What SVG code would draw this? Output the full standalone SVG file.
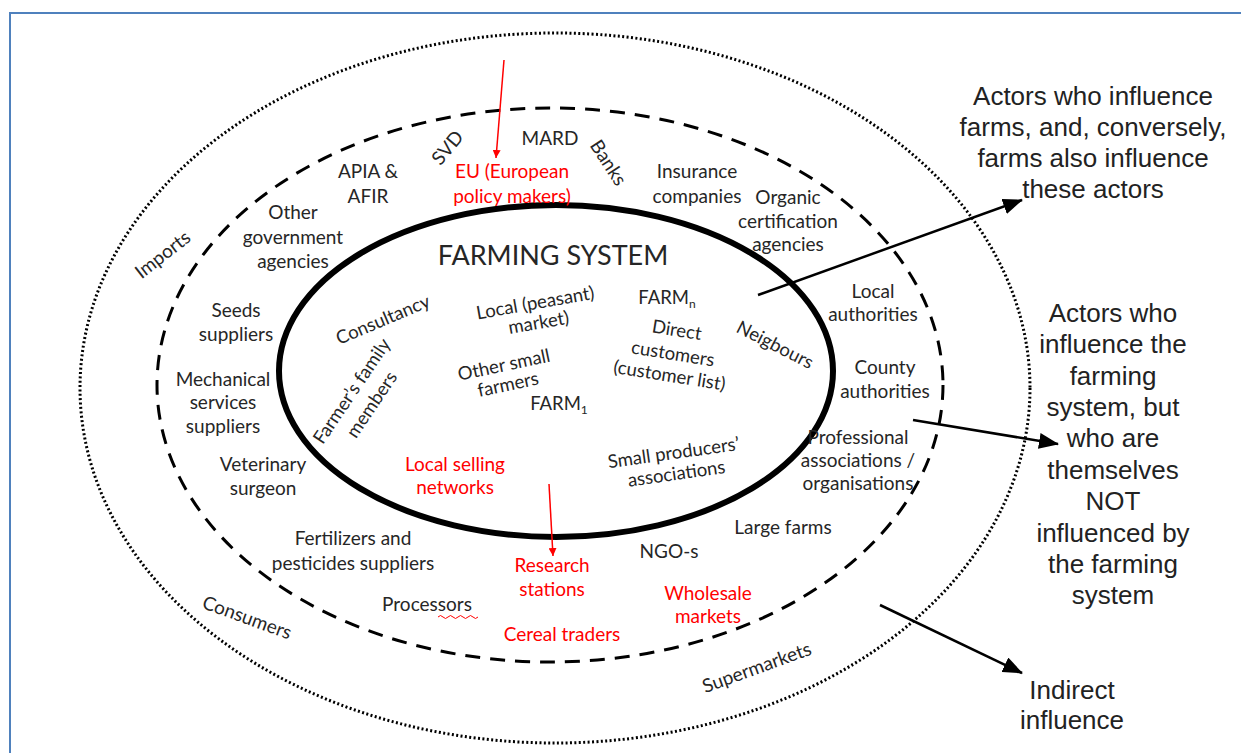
<svg xmlns="http://www.w3.org/2000/svg" width="1241" height="753" viewBox="0 0 1241 753">
<defs>
<style>
.t{font-family:Lato,"Open Sans","Liberation Sans",sans-serif;font-size:19px;fill:#262626;text-anchor:middle}
.i{font-size:18.5px}
.r{fill:#ff0000}
.a{font-family:"Liberation Sans",Arial,sans-serif;font-size:26px;fill:#222;text-anchor:middle}
.big{font-size:27px}
.con{stroke:#000;stroke-width:2.5;fill:none}
.rcon{stroke:#ff0000;stroke-width:1.5;fill:none}
</style>
<marker id="ah" markerUnits="userSpaceOnUse" viewBox="0 0 20 16" markerWidth="20" markerHeight="16" refX="19" refY="8" orient="auto"><path d="M0,0 L20,8 L0,16 z" fill="#000"/></marker>
<marker id="rh" markerUnits="userSpaceOnUse" viewBox="0 0 8 8" markerWidth="8" markerHeight="8" refX="8" refY="4" orient="auto"><path d="M0,0 L8,4 L0,8 z" fill="#ff0000"/></marker>
</defs>
<rect width="1241" height="753" fill="#fff"/>
<path d="M10,753 L10,13 L1241,13" fill="none" stroke="#4f81bd" stroke-width="2"/>

<g id="outer">
<ellipse cx="555" cy="388" rx="475" ry="355" fill="none" stroke="#000" stroke-width="3" stroke-dasharray="2 2.4"/>
</g>
<g id="middle">
<ellipse cx="550" cy="385" rx="393" ry="277" fill="none" stroke="#000" stroke-width="3" stroke-dasharray="15 10"/>
</g>
<g id="farming-system">
<ellipse cx="556" cy="371" rx="277" ry="166" fill="none" stroke="#000" stroke-width="6"/>
<text class="t big" x="553" y="265">FARMING SYSTEM</text>
</g>

<g id="connectors">
<line class="con" x1="758" y1="295" x2="1022" y2="200" marker-end="url(#ah)"/>
<line class="con" x1="913" y1="420" x2="1058" y2="444" marker-end="url(#ah)"/>
<line class="con" x1="880" y1="605" x2="1022" y2="673" marker-end="url(#ah)"/>
<line class="rcon" x1="504" y1="60" x2="496" y2="158" marker-end="url(#rh)"/>
<line class="rcon" x1="549" y1="484" x2="553" y2="556" marker-end="url(#rh)"/>
</g>

<g id="outer-actors">
<text class="t" transform="translate(163,255) rotate(-38)" y="6">Imports</text>
<text class="t" transform="translate(247,618) rotate(20)" y="6">Consumers</text>
<text class="t" transform="translate(757,668) rotate(-20)" y="6">Supermarkets</text>
</g>

<g id="middle-actors">
<text class="t" x="368" y="178">APIA &amp;</text>
<text class="t" x="368" y="203">AFIR</text>
<text class="t" transform="translate(448,148) rotate(-50)" y="6">SVD</text>
<text class="t" x="550" y="145">MARD</text>
<text class="t" transform="translate(608,163) rotate(57)" y="6">Banks</text>
<text class="t r" x="512" y="178">EU (European</text>
<text class="t r" x="512" y="203">policy makers)</text>
<text class="t" x="697" y="178">Insurance</text>
<text class="t" x="697" y="203">companies</text>
<text class="t" x="788" y="204">Organic</text>
<text class="t" x="788" y="228">certification</text>
<text class="t" x="788" y="251">agencies</text>
<text class="t" x="293" y="219">Other</text>
<text class="t" x="293" y="244">government</text>
<text class="t" x="293" y="268">agencies</text>
<text class="t" x="236" y="317">Seeds</text>
<text class="t" x="236" y="341">suppliers</text>
<text class="t" x="223" y="386">Mechanical</text>
<text class="t" x="223" y="409">services</text>
<text class="t" x="223" y="433">suppliers</text>
<text class="t" x="263" y="471">Veterinary</text>
<text class="t" x="263" y="495">surgeon</text>
<text class="t" x="353" y="545">Fertilizers and</text>
<text class="t" x="353" y="570">pesticides suppliers</text>
<text class="t" x="427" y="611">Processors</text>
<path d="M438,617 q2.5,-3 5,0 t5,0 t5,0 t5,0 t5,0 t5,0 t5,0 t5,0" fill="none" stroke="#ff0000" stroke-width="1"/>
<text class="t r" x="552" y="572">Research</text>
<text class="t r" x="552" y="596">stations</text>
<text class="t r" x="562" y="641">Cereal traders</text>
<text class="t" x="669" y="558">NGO-s</text>
<text class="t r" x="708" y="600">Wholesale</text>
<text class="t r" x="708" y="623">markets</text>
<text class="t" x="783" y="534">Large farms</text>
<text class="t" x="858" y="444">Professional</text>
<text class="t" x="858" y="467">associations /</text>
<text class="t" x="858" y="490">organisations</text>
<text class="t" x="885" y="374">County</text>
<text class="t" x="885" y="398">authorities</text>
<text class="t" x="873" y="298">Local</text>
<text class="t" x="873" y="321">authorities</text>
</g>

<g id="inner-actors">
<text class="t i" transform="translate(383,320) rotate(-23)" y="6">Consultancy</text>
<g transform="translate(362,398) rotate(-56)">
<text class="t i" y="-6">Farmer’s family</text>
<text class="t i" y="18">members</text>
</g>
<g transform="translate(537,313) rotate(-10)">
<text class="t i" y="-4">Local (peasant)</text>
<text class="t i" y="16">market)</text>
</g>
<g transform="translate(506,375) rotate(-12)">
<text class="t i" y="-4">Other small</text>
<text class="t i" y="16">farmers</text>
</g>
<text class="t i" x="559" y="410">FARM<tspan font-size="12" dy="4">1</tspan></text>
<text class="t i" x="667" y="304">FARM<tspan font-size="12" dy="4">n</tspan></text>
<g transform="translate(673,354) rotate(9)">
<text class="t i" y="-18">Direct</text>
<text class="t i" y="6">customers</text>
<text class="t i" y="28">(customer list)</text>
</g>
<text class="t i" transform="translate(775,345) rotate(27)" y="6">Neigbours</text>
<g transform="translate(675,463) rotate(-8)">
<text class="t i" y="-4">Small producers’</text>
<text class="t i" y="17">associations</text>
</g>
<text class="t r" x="455" y="471">Local selling</text>
<text class="t r" x="455" y="494">networks</text>
</g>

<g id="legend-1">
<text class="a" x="1093" y="105">Actors who influence</text>
<text class="a" x="1093" y="136">farms, and, conversely,</text>
<text class="a" x="1093" y="167">farms also influence</text>
<text class="a" x="1093" y="198">these actors</text>
</g>
<g id="legend-2">
<text class="a" x="1113" y="322">Actors who</text>
<text class="a" x="1113" y="353">influence the</text>
<text class="a" x="1113" y="385">farming</text>
<text class="a" x="1113" y="416">system, but</text>
<text class="a" x="1113" y="447">who are</text>
<text class="a" x="1113" y="479">themselves</text>
<text class="a" x="1113" y="510">NOT</text>
<text class="a" x="1113" y="542">influenced by</text>
<text class="a" x="1113" y="573">the farming</text>
<text class="a" x="1113" y="604">system</text>
</g>
<g id="legend-3">
<text class="a" x="1072" y="699">Indirect</text>
<text class="a" x="1072" y="729">influence</text>
</g>
</svg>
